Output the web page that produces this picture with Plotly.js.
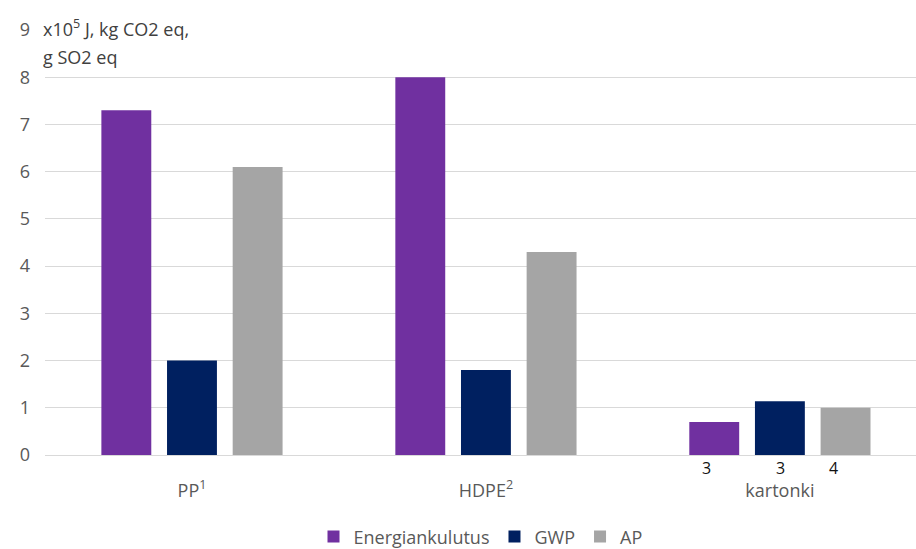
<!DOCTYPE html>
<html>
<head>
<meta charset="utf-8">
<script src="https://cdn.plot.ly/plotly-3.0.1.min.js"></script>
<style>html,body{margin:0;padding:0;background:#fff;}#chart{width:916px;height:549px;}</style>
</head>
<body>
<div id="chart"></div>
<script>
const categories = ["PP<sup>1</sup>", "HDPE<sup>2</sup>", "kartonki"];
const seriesNames = ["Energiankulutus", "GWP", "AP"];
const energia = [7.3, 8.0, 0.7];
const gwp = [2.0, 1.8, 1.14];
const ap = [6.1, 4.3, 1.0];
const kartonkiNotes = ["3", "3", "4"];
const yTicks = [0, 1, 2, 3, 4, 5, 6, 7, 8, 9];
const yTitleLines = ["x10<sup>5</sup> J, kg CO2 eq,", "g SO2 eq"];

const colors = ["#7030a0", "#002060", "#a5a5a5"];
const font = "'Open Sans', sans-serif";

const traces = [energia, gwp, ap].map((vals, i) => ({
  type: "bar",
  name: seriesNames[i],
  x: categories,
  y: vals,
  marker: {color: colors[i]},
  hoverinfo: "y"
}));

const noteShifts = [-73, 1, 54];
const annotations = kartonkiNotes.map((t, i) => ({
  text: t, xref: "x", yref: "paper", x: categories[2], y: 0,
  xshift: noteShifts[i], yshift: 0, yanchor: "top",
  showarrow: false, font: {family: font, size: 16, color: "#111"}
}));
annotations.push({
  text: yTitleLines[0],
  xref: "paper", yref: "paper", x: 0, y: 1, xshift: -4, yshift: 2,
  xanchor: "left", yanchor: "middle", align: "left",
  showarrow: false, bgcolor: "#fff",
  font: {family: font, size: 18, color: "#404040"}
});
annotations.push({
  text: yTitleLines[1],
  xref: "paper", yref: "paper", x: 0, y: 1, xshift: -4, yshift: -27,
  xanchor: "left", yanchor: "middle", align: "left",
  showarrow: false, bgcolor: "#fff",
  font: {family: font, size: 18, color: "#404040"}
});

const layout = {
  width: 916, height: 549,
  margin: {l: 45, r: 0, t: 30, b: 94},
  paper_bgcolor: "#fff", plot_bgcolor: "#fff",
  font: {family: font, size: 18, color: "#595959"},
  barmode: "group",
  bargap: 0.33,
  bargroupgap: 0.24,
  showlegend: true,
  legend: {orientation: "h", x: 0.5, xanchor: "center",
           yref: "container", y: 0.022, yanchor: "middle",
           font: {family: font, size: 18, color: "#595959"}},
  xaxis: {
    range: [-0.5, 2.463],
    automargin: false,
    tickfont: {family: font, size: 18, color: "#595959"},
    showline: true, linecolor: "#d9d9d9", linewidth: 1,
    ticks: "", showgrid: false, fixedrange: true,
    ticklabelstandoff: 19
  },
  yaxis: {
    range: [0, 9], tickvals: yTicks,
    automargin: false,
    tickfont: {family: font, size: 18, color: "#595959"},
    gridcolor: "#d9d9d9", gridwidth: 1, zeroline: false,
    showline: false, ticks: "", ticklabelstandoff: 14, fixedrange: true
  },
  annotations: annotations
};

Plotly.newPlot("chart", traces, layout, {displayModeBar: false, staticPlot: true});
</script>
</body>
</html>
